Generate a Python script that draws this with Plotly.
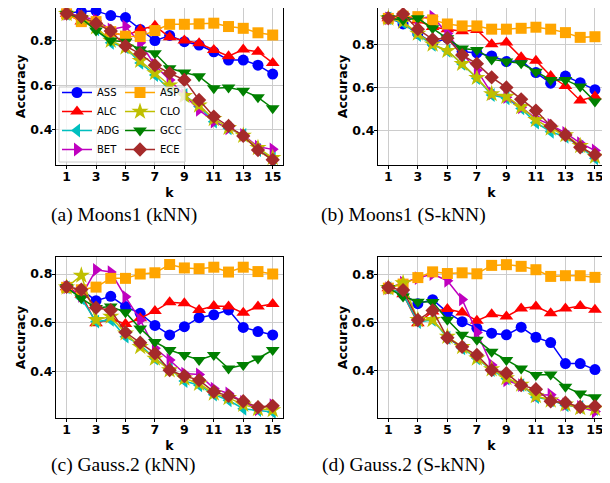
import plotly.graph_objects as go

# page body adds an 8px margin; the figure is sized so that it ends at the window edge
OFF = 8
W, H = 610 - OFF, 483 - OFF
k = list(range(1, 16))

methods = ["ASS", "ALC", "ADG", "BET", "ASP", "CLO", "GCC", "ECE"]

# (a) Moons1 (kNN)
ass_a = [0.922, 0.930, 0.933, 0.912, 0.903, 0.850, 0.800, 0.823, 0.795, 0.780, 0.750, 0.713, 0.713, 0.690, 0.650]
alc_a = [0.920, 0.885, 0.890, 0.840, 0.820, 0.850, 0.866, 0.815, 0.800, 0.788, 0.758, 0.730, 0.760, 0.750, 0.700]
adg_a = [0.920, 0.900, 0.850, 0.790, 0.770, 0.700, 0.646, 0.580, 0.557, 0.505, 0.437, 0.407, 0.378, 0.310, 0.273]
bet_a = [0.920, 0.910, 0.890, 0.850, 0.863, 0.790, 0.690, 0.624, 0.557, 0.490, 0.437, 0.407, 0.378, 0.325, 0.313]
asp_a = [0.920, 0.885, 0.885, 0.840, 0.820, 0.818, 0.845, 0.873, 0.873, 0.875, 0.878, 0.863, 0.855, 0.835, 0.825]
clo_a = [0.920, 0.900, 0.860, 0.800, 0.770, 0.710, 0.655, 0.600, 0.553, 0.510, 0.450, 0.410, 0.375, 0.320, 0.275]
gcc_a = [0.920, 0.900, 0.845, 0.800, 0.795, 0.760, 0.743, 0.676, 0.657, 0.640, 0.587, 0.590, 0.576, 0.546, 0.497]
ece_a = [0.921, 0.907, 0.877, 0.843, 0.776, 0.741, 0.690, 0.654, 0.624, 0.534, 0.460, 0.418, 0.373, 0.310, 0.266]

# (b) Moons1 (S-kNN)
ass_b = [0.925, 0.894, 0.850, 0.805, 0.828, 0.766, 0.760, 0.746, 0.720, 0.724, 0.669, 0.620, 0.653, 0.622, 0.590]
alc_b = [0.920, 0.935, 0.910, 0.880, 0.870, 0.860, 0.866, 0.800, 0.808, 0.740, 0.724, 0.653, 0.607, 0.540, 0.558]
adg_b = [0.920, 0.900, 0.843, 0.797, 0.770, 0.709, 0.643, 0.565, 0.550, 0.503, 0.437, 0.395, 0.372, 0.326, 0.272]
bet_b = [0.920, 0.920, 0.920, 0.928, 0.850, 0.758, 0.680, 0.573, 0.555, 0.508, 0.457, 0.427, 0.390, 0.342, 0.308]
asp_b = [0.920, 0.930, 0.928, 0.913, 0.894, 0.885, 0.885, 0.870, 0.870, 0.874, 0.879, 0.870, 0.854, 0.832, 0.835]
clo_b = [0.920, 0.905, 0.850, 0.800, 0.770, 0.710, 0.645, 0.570, 0.558, 0.510, 0.450, 0.410, 0.380, 0.330, 0.280]
gcc_b = [0.920, 0.913, 0.920, 0.874, 0.828, 0.780, 0.774, 0.730, 0.720, 0.712, 0.673, 0.635, 0.635, 0.604, 0.535]
ece_b = [0.920, 0.940, 0.870, 0.823, 0.828, 0.750, 0.710, 0.647, 0.600, 0.545, 0.493, 0.422, 0.380, 0.323, 0.288]

# (c) Gauss.2 (kNN)
ass_c = [0.745, 0.735, 0.690, 0.708, 0.666, 0.638, 0.588, 0.549, 0.583, 0.620, 0.632, 0.652, 0.580, 0.563, 0.549]
alc_c = [0.745, 0.715, 0.597, 0.616, 0.594, 0.618, 0.648, 0.684, 0.680, 0.652, 0.668, 0.666, 0.640, 0.666, 0.676]
adg_c = [0.745, 0.700, 0.604, 0.611, 0.542, 0.508, 0.452, 0.411, 0.359, 0.342, 0.303, 0.280, 0.245, 0.240, 0.232]
bet_c = [0.745, 0.710, 0.817, 0.808, 0.706, 0.611, 0.494, 0.446, 0.390, 0.386, 0.328, 0.308, 0.273, 0.243, 0.260]
asp_c = [0.745, 0.735, 0.746, 0.782, 0.782, 0.800, 0.805, 0.839, 0.825, 0.822, 0.828, 0.808, 0.828, 0.810, 0.800]
clo_c = [0.745, 0.794, 0.611, 0.625, 0.556, 0.500, 0.452, 0.404, 0.370, 0.349, 0.308, 0.290, 0.262, 0.245, 0.240]
gcc_c = [0.745, 0.700, 0.660, 0.666, 0.642, 0.576, 0.520, 0.487, 0.466, 0.446, 0.466, 0.411, 0.425, 0.452, 0.487]
ece_c = [0.747, 0.736, 0.661, 0.651, 0.560, 0.517, 0.473, 0.404, 0.380, 0.363, 0.315, 0.298, 0.276, 0.252, 0.257]

# (d) Gauss.2 (S-kNN)
ass_d = [0.745, 0.720, 0.680, 0.697, 0.644, 0.605, 0.578, 0.557, 0.550, 0.582, 0.540, 0.518, 0.430, 0.430, 0.405]
alc_d = [0.745, 0.720, 0.598, 0.648, 0.658, 0.643, 0.609, 0.636, 0.627, 0.660, 0.668, 0.640, 0.660, 0.670, 0.655]
adg_d = [0.745, 0.720, 0.603, 0.613, 0.538, 0.494, 0.452, 0.403, 0.368, 0.340, 0.290, 0.277, 0.256, 0.249, 0.240]
bet_d = [0.745, 0.768, 0.787, 0.804, 0.776, 0.698, 0.560, 0.424, 0.360, 0.340, 0.298, 0.300, 0.260, 0.249, 0.230]
asp_d = [0.745, 0.762, 0.789, 0.813, 0.806, 0.809, 0.805, 0.840, 0.843, 0.836, 0.822, 0.794, 0.797, 0.797, 0.790]
clo_d = [0.745, 0.766, 0.613, 0.613, 0.543, 0.500, 0.452, 0.407, 0.370, 0.343, 0.295, 0.277, 0.260, 0.245, 0.242]
gcc_d = [0.745, 0.710, 0.688, 0.687, 0.613, 0.550, 0.530, 0.480, 0.445, 0.410, 0.382, 0.385, 0.333, 0.305, 0.290]
ece_d = [0.748, 0.737, 0.612, 0.652, 0.538, 0.500, 0.466, 0.403, 0.390, 0.340, 0.323, 0.273, 0.267, 0.249, 0.252]

captions = ["(a) Moons1 (kNN)", "(b) Moons1 (S-kNN)", "(c) Gauss.2 (kNN)", "(d) Gauss.2 (S-kNN)"]
x_ticks = [1, 3, 5, 7, 9, 11, 13, 15]
y_ticks = [0.4, 0.6, 0.8]

panels = [
    [ass_a, alc_a, adg_a, bet_a, asp_a, clo_a, gcc_a, ece_a],
    [ass_b, alc_b, adg_b, bet_b, asp_b, clo_b, gcc_b, ece_b],
    [ass_c, alc_c, adg_c, bet_c, asp_c, clo_c, gcc_c, ece_c],
    [ass_d, alc_d, adg_d, bet_d, asp_d, clo_d, gcc_d, ece_d],
]

colors = ["#0000ff", "#ff0000", "#00bfbf", "#bf00bf", "#ffa500", "#bfbf00", "#008000", "#a52a2a"]
symbols = ["circle", "triangle-up", "triangle-left", "triangle-right", "square", "star", "triangle-down", "diamond"]
msizes = [11, 12, 12, 12, 11, 13, 12, 11]

# plot-area pixel boxes in window coordinates (left, right, top, bottom)
boxes = [(56, 283, 8, 165), (378, 605, 8, 165), (56, 283, 257, 418), (378, 605, 257, 418)]
x_ranges = [[0.28, 15.7], [0.3, 15.68], [0.28, 15.7], [0.3, 15.68]]
y_ranges = [[0.243, 0.946], [0.241, 0.968], [0.207, 0.87], [0.203, 0.875]]


def px(x):
    return (x - OFF) / W


def py(y):
    return 1 - (y - OFF) / H


fig = go.Figure()
tick_font = dict(family="DejaVu Sans", size=12.5, color="black")
title_font = dict(family="DejaVu Sans", size=12.5, color="black")

for p in range(4):
    sfx = "" if p == 0 else str(p + 1)
    for m in range(8):
        leg = "legend" if m < 4 else "legend2"
        fig.add_trace(go.Scatter(
            x=k, y=panels[p][m], mode="lines+markers", name=methods[m],
            line=dict(color=colors[m], width=1.5),
            marker=dict(color=colors[m], symbol=symbols[m], size=msizes[m]),
            xaxis="x" + sfx, yaxis="y" + sfx,
            showlegend=(p == 0), legend=leg,
        ))
    l, r, t, b = boxes[p]
    fig.layout["xaxis" + sfx] = dict(
        domain=[px(l), px(r)], anchor="y" + sfx, range=x_ranges[p],
        tickvals=x_ticks, ticktext=["<b>%d</b>" % v for v in x_ticks],
        ticks="outside", ticklen=3, tickcolor="black", ticklabelstandoff=-3,
        tickfont=tick_font, showgrid=True, gridcolor="#cccccc", gridwidth=1,
        showline=True, linecolor="black", linewidth=1, mirror=True, zeroline=False,
        title=dict(text="<b>k</b>", font=title_font, standoff=5),
    )
    fig.layout["yaxis" + sfx] = dict(
        domain=[py(b), py(t)], anchor="x" + sfx, range=y_ranges[p],
        tickvals=y_ticks, ticktext=["<b>%.1f</b>" % v for v in y_ticks],
        ticks="outside", ticklen=3, tickcolor="black", ticklabelstandoff=-3,
        tickfont=tick_font, showgrid=True, gridcolor="#cccccc", gridwidth=1,
        showline=True, linecolor="black", linewidth=1, mirror=True, zeroline=False,
        title=dict(text="<b>Accuracy</b>", font=title_font, standoff=1),
    )

cap_pos = [(123.5, 215), (403.5, 215), (123.5, 465), (403.5, 465)]
for (cx, cy), txt in zip(cap_pos, captions):
    fig.add_annotation(x=px(cx), y=py(cy), xref="paper", yref="paper", text=txt,
                       showarrow=False, xanchor="center", yanchor="middle",
                       font=dict(family="Liberation Serif", size=19.5, color="black"))

leg_font = dict(family="DejaVu Sans", size=10, color="black")
fig.update_layout(
    width=W, height=H, margin=dict(l=0, r=0, t=0, b=0),
    paper_bgcolor="white", plot_bgcolor="white",
    legend=dict(x=px(57), y=py(164), xanchor="left", yanchor="bottom",
                bgcolor="rgba(0,0,0,0)", font=leg_font, tracegroupgap=0),
    legend2=dict(x=px(120), y=py(164), xanchor="left", yanchor="bottom",
                 bgcolor="rgba(0,0,0,0)", font=leg_font, tracegroupgap=0),
    shapes=[dict(type="rect", xref="paper", yref="paper", layer="above",
                 x0=px(59), x1=px(185), y0=py(162), y1=py(87),
                 fillcolor="rgba(255,255,255,0.8)", line=dict(color="#cccccc", width=1))],
)

fig.write_html("out.html")
